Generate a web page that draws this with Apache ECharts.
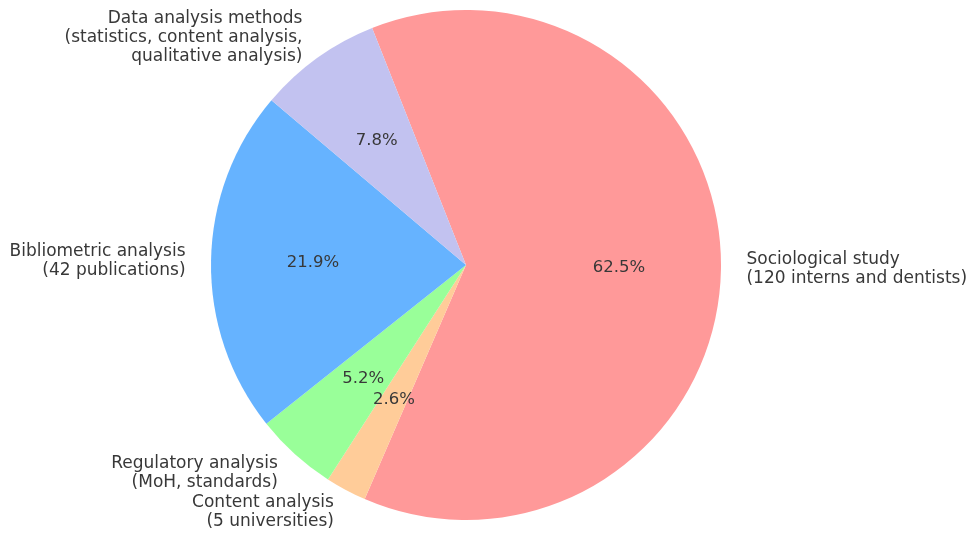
<!DOCTYPE html>
<html>
<head>
<meta charset="utf-8">
<script src="https://cdn.jsdelivr.net/npm/echarts@6/dist/echarts.min.js"></script>
<style>
html,body{margin:0;padding:0;background:#fff;}
#chart{width:969px;height:533px;}
</style>
</head>
<body>
<div id="chart"></div>
<script>
const categories = [
  'Sociological study\n(120 interns and dentists)',
  'Content analysis\n(5 universities)',
  'Regulatory analysis\n(MoH, standards)',
  'Bibliometric analysis\n(42 publications)',
  'Data analysis methods\n(statistics, content analysis,\nqualitative analysis)'
];
const values = [120, 5, 10, 42, 15];
const colors = ['#ff9999', '#ffcc99', '#99ff99', '#66b3ff', '#c2c2f0'];

const total = values.reduce((a, b) => a + b, 0);
const R = 255;
const center = [466, 265];
const font = 'DejaVu Sans';
const textColor = '#383838';

const data = categories.map((c, i) => ({ name: c, value: values[i], itemStyle: { color: colors[i] } }));

const chart = echarts.init(document.getElementById('chart'), null, { renderer: 'canvas' });
chart.setOption({
  animation: false,
  backgroundColor: '#ffffff',
  series: [
    {
      type: 'pie',
      center: center,
      radius: [0, R],
      startAngle: 111.6,
      clockwise: true,
      avoidLabelOverlap: false,
      silent: true,
      emphasis: { disabled: true },
      data: data,
      labelLayout: { hideOverlap: false, moveOverlap: null },
      label: {
        show: true,
        position: 'outside',
        formatter: p => p.name,
        fontFamily: font,
        fontSize: 17,
        lineHeight: 19,
        color: textColor,
        distanceToLabelLine: 0
      },
      labelLine: { show: false, length: 25.5, length2: 0 }
    },
    {
      type: 'pie',
      center: center,
      radius: [45, R],
      startAngle: 111.6,
      clockwise: true,
      avoidLabelOverlap: false,
      silent: true,
      emphasis: { disabled: true },
      labelLayout: { hideOverlap: false },
      data: categories.map((c, i) => ({ name: c, value: values[i], itemStyle: { color: 'rgba(0,0,0,0)' } })),
      label: {
        show: true,
        position: 'inside',
        formatter: p => (p.value / total * 100).toFixed(1) + '%',
        fontFamily: font,
        fontSize: 16.5,
        color: textColor
      },
      labelLine: { show: false }
    }
  ]
});
</script>
</body>
</html>
